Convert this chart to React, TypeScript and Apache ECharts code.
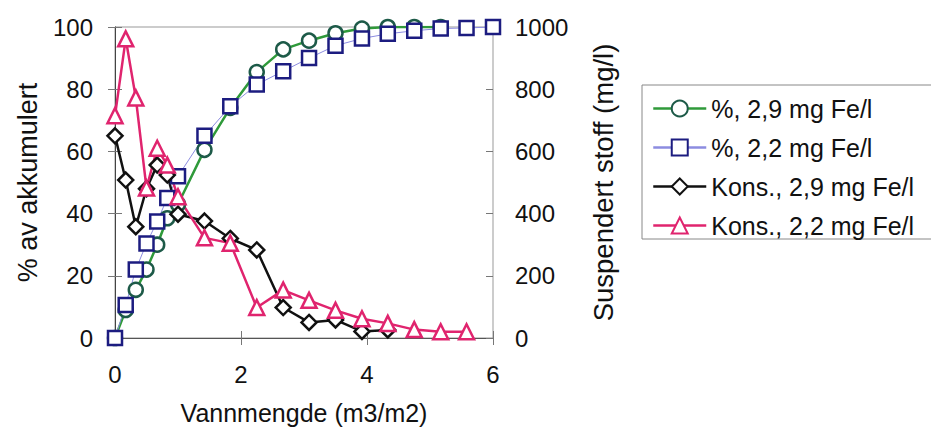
import React, { useEffect, useRef } from "react";
import * as echarts from "echarts";

const xVals = [0, 0.17, 0.33, 0.5, 0.67, 0.83, 1.0, 1.42, 1.83, 2.25, 2.67, 3.08, 3.5, 3.92, 4.33, 4.75, 5.17, 5.58, 6.0];
const pct29 = [0, 9, 15.5, 22, 30, 38.5, 43, 60.5, 74, 85.5, 92.8, 95.6, 98, 99.5, 100, 100, 100];
const pct22 = [0, 10.6, 22, 30.4, 37.5, 45, 52, 65, 74.5, 81.5, 85.8, 90, 94, 96.3, 97.8, 98.8, 99.5, 99.7, 100];
const kons29 = [650, 508, 358, 480, 556, 524, 398, 376, 320, 283, 98, 50, 58, 21, 26];
const kons22 = [715, 962, 772, 482, 610, 556, 454, 322, 305, 98, 154, 121, 89, 62, 47, 27, 20, 20];

const names = ["%, 2,9 mg Fe/l", "%, 2,2 mg Fe/l", "Kons., 2,9 mg Fe/l", "Kons., 2,2 mg Fe/l"];
const xTicks = { min: 0, max: 6, interval: 2 };
const yLeftTicks = { min: 0, max: 100, interval: 20 };
const yRightTicks = { min: 0, max: 1000, interval: 200 };

const FONT = "Liberation Sans";

function pairs(vals: number[]) {
  return vals.map((v, i) => [xVals[i], v]);
}

export default function App() {
  const ref = useRef<HTMLDivElement>(null);
  useEffect(() => {
    if (!ref.current) return;
    const chart = echarts.init(ref.current, undefined, { renderer: "svg" });
    const tickCol = "#777";
    const hiddenAxisBase = {
      axisLine: { show: false },
      axisLabel: { show: false },
      splitLine: { show: false },
      axisTick: { show: true, inside: true, length: 7, lineStyle: { color: tickCol } },
    };
    chart.setOption({
      animation: false,
      backgroundColor: "#fff",
      textStyle: { fontFamily: FONT },
      grid: {
        left: 115,
        right: 438,
        top: 27,
        bottom: 95,
        containLabel: false,
        outerBoundsMode: "none",
        show: true,
        borderColor: "#999",
        borderWidth: 1,
      },
      legend: {
        orient: "vertical",
        left: 642,
        top: 85,
        data: names,
        selectedMode: false,
        itemWidth: 53,
        itemHeight: 20,
        itemGap: 14,
        padding: [11, 40, 1, 10],
        borderColor: "#888",
        borderWidth: 1,
        backgroundColor: "#fff",
        lineStyle: { width: 2.5 },
        textStyle: { fontSize: 25, lineHeight: 25, color: "#111", fontFamily: FONT },
      },
      xAxis: [
        {
          type: "value",
          ...xTicks,
          position: "bottom",
          name: "Vannmengde (m3/m2)",
          nameLocation: "middle",
          nameGap: 62,
          nameTextStyle: { fontSize: 25, color: "#111", fontFamily: FONT },
          axisLine: { show: true, onZero: false, lineStyle: { color: "#555" } },
          axisTick: { show: true, length: 7, lineStyle: { color: tickCol } },
          axisLabel: { fontSize: 24, color: "#111", margin: 24, fontFamily: FONT },
          splitLine: { show: false },
        },
        { type: "value", ...xTicks, position: "bottom", ...hiddenAxisBase },
      ],
      yAxis: [
        {
          type: "value",
          ...yLeftTicks,
          position: "left",
          name: "% av akkumulert",
          nameLocation: "middle",
          nameRotate: 90,
          nameGap: 74,
          nameTextStyle: { fontSize: 27, color: "#111", fontFamily: FONT },
          axisLine: { show: true, lineStyle: { color: "#888" } },
          axisTick: { show: true, length: 7, lineStyle: { color: tickCol } },
          axisLabel: { fontSize: 24, color: "#111", margin: 22, fontFamily: FONT },
          splitLine: { show: false },
        },
        {
          type: "value",
          ...yRightTicks,
          position: "right",
          name: "Suspendert stoff (mg/l)",
          nameLocation: "middle",
          nameRotate: 90,
          nameGap: 96,
          nameTextStyle: { fontSize: 27.5, color: "#111", fontFamily: FONT },
          axisLine: { show: true, lineStyle: { color: "#444" } },
          axisTick: { show: true, length: 7, lineStyle: { color: tickCol } },
          axisLabel: {
            fontSize: 24,
            color: "#111",
            margin: 22,
            fontFamily: FONT,
            formatter: (v: number) => String(v),
          },
          splitLine: { show: false },
        },
        { type: "value", ...yLeftTicks, position: "left", ...hiddenAxisBase },
        { type: "value", ...yRightTicks, position: "right", ...hiddenAxisBase },
      ],
      series: [
        {
          name: names[0],
          type: "line",
          xAxisIndex: 0,
          yAxisIndex: 0,
          data: pairs(pct29),
          symbol: "circle",
          symbolSize: 14,
          showAllSymbol: true,
          lineStyle: { color: "#2f9a3a", width: 2.5 },
          itemStyle: { color: "#fff", borderColor: "#1d5a48", borderWidth: 2.5 },
        },
        {
          name: names[1],
          type: "line",
          xAxisIndex: 0,
          yAxisIndex: 0,
          data: pairs(pct22),
          symbol: "rect",
          symbolSize: 14,
          showAllSymbol: true,
          lineStyle: { color: "#8c8ce0", width: 1 },
          itemStyle: { color: "#fff", borderColor: "#1c1c80", borderWidth: 2.5 },
        },
        {
          name: names[2],
          type: "line",
          xAxisIndex: 0,
          yAxisIndex: 1,
          data: pairs(kons29),
          symbol: "diamond",
          symbolSize: 15,
          showAllSymbol: true,
          lineStyle: { color: "#111", width: 2.5 },
          itemStyle: { color: "#fff", borderColor: "#111", borderWidth: 2.5 },
        },
        {
          name: names[3],
          type: "line",
          xAxisIndex: 0,
          yAxisIndex: 1,
          data: pairs(kons22),
          symbol: "triangle",
          symbolSize: 15,
          showAllSymbol: true,
          lineStyle: { color: "#e0246e", width: 2.5 },
          itemStyle: { color: "#fff", borderColor: "#e0246e", borderWidth: 2.5 },
        },
      ],
    });
    return () => chart.dispose();
  }, []);
  return (
    <div
      ref={ref}
      style={{ position: "fixed", left: 0, top: 0, width: 931, height: 433, background: "#fff" }}
    />
  );
}
